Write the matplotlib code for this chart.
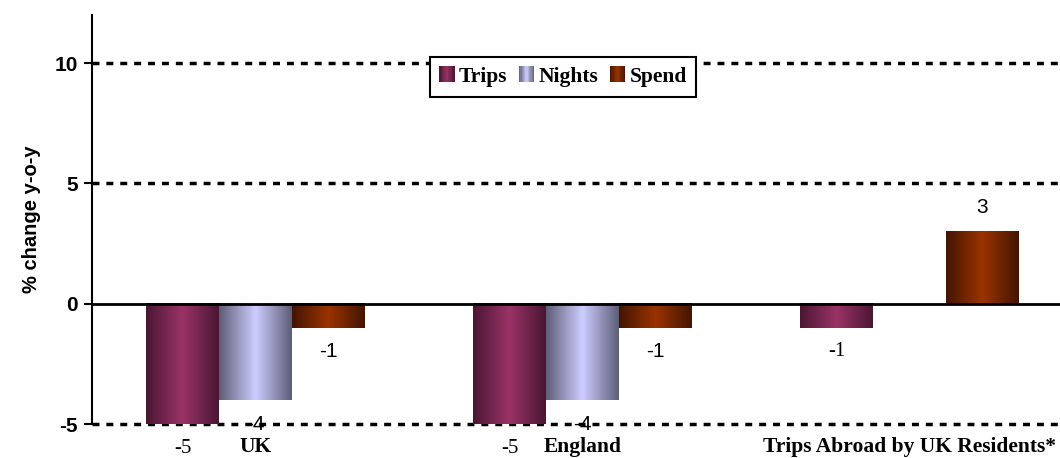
import numpy as np
import matplotlib
matplotlib.use("Agg")
import matplotlib.pyplot as plt
from matplotlib.patches import Patch, Rectangle
from matplotlib.legend_handler import HandlerBase
from matplotlib.colors import LinearSegmentedColormap

plt.rcParams["axes.unicode_minus"] = False

categories = ["UK", "England", "Trips Abroad by UK Residents*"]
series = ["Trips", "Nights", "Spend"]
trips = [-5, -5, -1]
nights = [-4, -4, np.nan]
spend = [-1, -1, 3]

# edge colour, centre colour for the shaded bars
shades = {
    "Trips": ("#4a1733", "#9a3366"),
    "Nights": ("#5e5e78", "#ccccff"),
    "Spend": ("#441500", "#993300"),
}
label_fonts = {"Trips": "Liberation Serif", "Nights": "Liberation Sans", "Spend": "Liberation Sans"}
cmaps = {s: LinearSegmentedColormap.from_list(s, list(shades[s])) for s in series}


class GradientHandler(HandlerBase):
    # legend key drawn as thin strips, dark-light-dark like the bars
    def create_artists(self, legend, orig, xd, yd, width, height, fontsize, trans):
        cmap = cmaps[orig.get_label()]
        n = 12
        out = []
        for k in range(n):
            t = 1 - abs((k + 0.5) / n * 2 - 1)
            r = Rectangle((xd + width * k / n, yd), width / n + 0.3, height,
                          facecolor=cmap(t), edgecolor="none", transform=trans)
            out.append(r)
        return out


fig = plt.figure(figsize=(10.6, 4.58), dpi=100)
ax = fig.add_axes([92 / 1060, 34 / 458, 981 / 1060, 409 / 458])

x = np.arange(len(categories))
w = 0.2232
grad = np.concatenate([np.linspace(0, 1, 50), np.linspace(1, 0, 50)]).reshape(1, -1)

for i, (name, vals) in enumerate(zip(series, [trips, nights, spend])):
    bars = ax.bar(x + (i - 1) * w, vals, w, color="none", edgecolor="none")
    for b, v in zip(bars, vals):
        if np.isnan(v):
            continue
        x0, x1 = b.get_x(), b.get_x() + b.get_width()
        y0, y1 = sorted([b.get_y(), b.get_y() + b.get_height()])
        ax.imshow(grad, cmap=cmaps[name], extent=[x0, x1, y0, y1], aspect="auto",
                  interpolation="bicubic", zorder=2)
        ty = v + 1 if v > 0 else v - 1
        ax.text(b.get_x() + b.get_width() / 2, ty, f"{v:g}", ha="center", va="center",
                fontsize=15, family=label_fonts[name], zorder=4, clip_on=False)

ax.set_xlim(-0.5, 2.5)
ax.set_ylim(-5, 12)
ax.set_yticks([-5, 0, 5, 10])
for t in ax.get_yticklabels():
    t.set_fontweight("bold")
    t.set_family("Liberation Sans")
    t.set_fontsize(15)
ax.tick_params(axis="y", direction="out", length=6, width=1.5, pad=4)
ax.set_xticks([])
for xi, c in zip(x, categories):
    ax.text(xi, -5.95, c, ha="center", va="center", fontsize=15.5, fontweight="bold",
            family="Liberation Serif")

for s in ["top", "right", "bottom"]:
    ax.spines[s].set_visible(False)
ax.spines["left"].set_linewidth(1.5)

for gy in [-5, 5, 10]:
    ax.axhline(gy, color="black", lw=2.5, ls=(0, (2, 2)), zorder=1, clip_on=False)
ax.axhline(0, color="black", lw=2, zorder=3)

ax.set_ylabel("% change y-o-y", fontsize=14.5, fontweight="bold", family="Liberation Sans", labelpad=10)

handles = [Patch(label=s) for s in series]
leg = fig.legend(handles, series, loc="center", bbox_to_anchor=(563 / 1060, 1 - 77 / 458), ncol=3,
                 prop={"family": "Liberation Serif", "weight": "bold", "size": 15.5},
                 fancybox=False, edgecolor="black", framealpha=1, handlelength=0.7,
                 handleheight=0.75, handletextpad=0.2, columnspacing=0.55, borderpad=0.45,
                 handler_map={Patch: GradientHandler()})
leg.get_frame().set_linewidth(1.5)

fig.savefig("out.png", dpi=100)
